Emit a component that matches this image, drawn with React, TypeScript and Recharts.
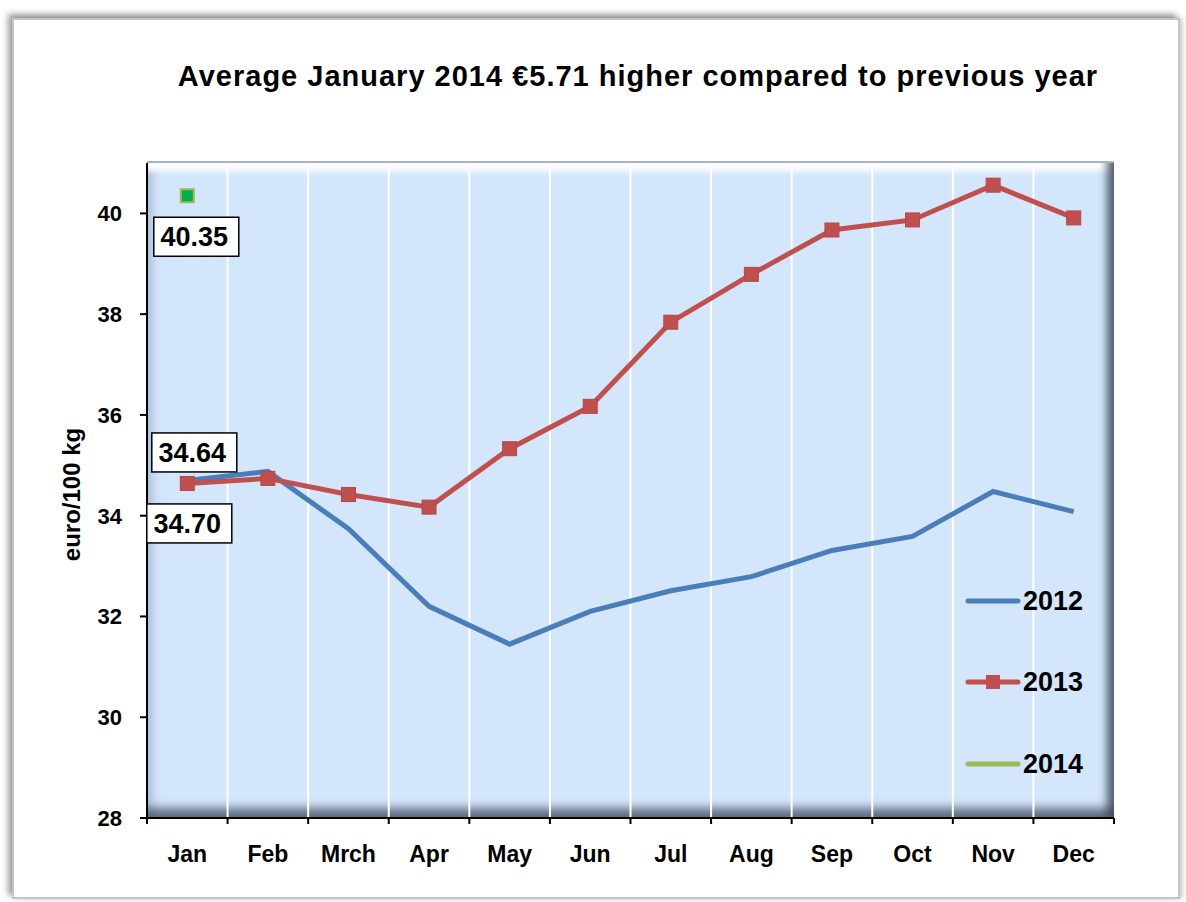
import React from 'react';
import { LineChart, Line, XAxis, YAxis, ReferenceLine, LabelList } from 'recharts';

const months = ['Jan', 'Feb', 'Mrch', 'Apr', 'May', 'Jun', 'Jul', 'Aug', 'Sep', 'Oct', 'Nov', 'Dec'];
const values2012 = [34.70, 34.88, 33.74, 32.20, 31.45, 32.10, 32.51, 32.79, 33.31, 33.59, 34.48, 34.08];
const values2013 = [34.64, 34.74, 34.42, 34.17, 35.33, 36.17, 37.84, 38.79, 39.67, 39.87, 40.56, 39.91];
const values2014: (number | null)[] = [40.35, null, null, null, null, null, null, null, null, null, null, null];
const yTicks = [28, 30, 32, 34, 36, 38, 40];
const seriesNames = ['2012', '2013', '2014'];
const titleText = 'Average January 2014 \u20ac5.71 higher compared to previous year';
const yAxisTitle = 'euro/100 kg';

const data = months.map((m, i) => ({
  month: m,
  y2012: values2012[i],
  y2013: values2013[i],
  y2014: values2014[i],
}));

const FONT = '"Liberation Sans", Arial, Helvetica, sans-serif';
const C2012 = '#4a7ebb';
const C2013 = '#c0504d';
const C2014 = '#9bbb59';
const C2014FILL = '#00b050';

const W = 1186;
const H = 902;
const MARGIN = { top: 163, right: 72, bottom: 34, left: 47 };
const Y_AXIS_W = 100;
const X_AXIS_H = 50;
const PLOT = {
  left: MARGIN.left + Y_AXIS_W,
  top: MARGIN.top,
  width: W - MARGIN.left - Y_AXIS_W - MARGIN.right,
  height: H - MARGIN.top - MARGIN.bottom - X_AXIS_H,
};

const X_TICK_SIZE = 6;
const X_TICK_MARGIN = 21;

const XTick = (props: any) => {
  const { x, y, payload, index } = props;
  const axisY = y - X_TICK_SIZE - X_TICK_MARGIN;
  const half = payload && payload.offset ? payload.offset : 0;
  return (
    <g>
      <line x1={x - half} x2={x - half} y1={axisY} y2={axisY + X_TICK_SIZE} stroke="#000" strokeWidth={2} />
      {index === months.length - 1 && (
        <line x1={x + half} x2={x + half} y1={axisY} y2={axisY + X_TICK_SIZE} stroke="#000" strokeWidth={2} />
      )}
      <text x={x} y={y} dy={16.5} textAnchor="middle" fontFamily={FONT} fontWeight="bold" fontSize={23} fill="#000">
        {payload.value}
      </text>
    </g>
  );
};

const boxLabel = (dx: number, dy: number, onlyFirst: boolean) => (props: any) => {
  const { x, y, value, index } = props;
  if (value === null || value === undefined || x == null || y == null) return null;
  if (onlyFirst && index !== 0) return null;
  const cx = x + dx;
  const cy = y + dy;
  const bw = 85;
  const bh = 39;
  return (
    <g>
      <rect x={cx - bw / 2} y={cy - bh / 2} width={bw} height={bh} fill="#fff" stroke="#000" strokeWidth={1.5} />
      <text x={cx - 2} y={cy} dy={9.5} textAnchor="middle" fontFamily={FONT} fontWeight="bold" fontSize={27} fill="#000">
        {Number(value).toFixed(2)}
      </text>
    </g>
  );
};

const squareDot = (size: number, fill: string, stroke: string, sw: number) => (props: any) => {
  const { cx, cy, index } = props;
  if (cx == null || cy == null || isNaN(cx) || isNaN(cy)) return <g key={`d-${index}`} />;
  return (
    <rect key={`d-${index}`} x={cx - size / 2} y={cy - size / 2} width={size} height={size} fill={fill} stroke={stroke} strokeWidth={sw} />
  );
};

const legendItems = [
  { name: seriesNames[0], color: C2012, marker: false },
  { name: seriesNames[1], color: C2013, marker: true },
  { name: seriesNames[2], color: C2014, marker: false },
];
const LEGEND_Y = [601, 682, 764];

const YLabel = (props: any) => {
  const vb = props.viewBox || { x: 0, y: 0, width: 0, height: 0 };
  const cx = vb.x + 25;
  const cy = vb.y + vb.height / 2 + 4;
  return (
    <text x={cx} y={cy} transform={`rotate(-90 ${cx} ${cy})`} textAnchor="middle" dy={8} fontFamily={FONT} fontWeight="bold" fontSize={24} fill="#000">
      {yAxisTitle}
    </text>
  );
};

export default function App() {
  return (
    <div style={{ position: 'absolute', left: 0, top: 0, width: W, height: H, background: '#fff', overflow: 'hidden', fontFamily: FONT }}>
      {/* outer frame */}
      <div
        style={{
          position: 'absolute',
          left: 12,
          top: 18,
          width: 1168,
          height: 881,
          boxSizing: 'border-box',
          border: '2px solid #c4c4c4',
          boxShadow: '-4px -4px 6px rgba(0,0,0,0.38), 3px 0px 5px rgba(0,0,0,0.18)',
          background: '#fff',
        }}
      />
      {/* plot background with bevel */}
      <div
        style={{
          position: 'absolute',
          left: PLOT.left,
          top: PLOT.top - 2,
          width: PLOT.width,
          height: PLOT.height + 2,
          boxSizing: 'border-box',
          background: '#d4e6fc',
          borderTop: '2px solid #a9b2bf',
          boxShadow:
            'inset -14px 0px 9px -7px rgba(60,70,90,0.85), inset 0px -18px 10px -8px rgba(60,70,90,0.75), inset 0px 14px 6px -6px rgba(255,255,255,1), inset 12px 0px 8px -6px rgba(140,160,195,0.55)',
        }}
      />
      {/* title */}
      <svg style={{ position: 'absolute', left: 0, top: 0 }} width={W} height={120}>
        <text x={638} y={86} textAnchor="middle" fontFamily={FONT} fontWeight="bold" fontSize={29} letterSpacing={1} fill="#000">
          {titleText}
        </text>
      </svg>
      <div style={{ position: 'absolute', left: 0, top: 0 }}>
        <LineChart width={W} height={H} data={data} margin={MARGIN}>
          {months.slice(1).map((m) => (
            <ReferenceLine key={m} x={m} position="start" stroke="#ffffff" strokeWidth={2} ifOverflow="extendDomain" />
          ))}
          <XAxis
            dataKey="month"
            scale="band"
            height={X_AXIS_H}
            axisLine={{ stroke: '#000', strokeWidth: 2 }}
            tickLine={{ stroke: 'none' }}
            tickSize={X_TICK_SIZE}
            tickMargin={X_TICK_MARGIN}
            interval={0}
            tick={<XTick />}
          />
          <YAxis
            domain={[28, 41]}
            ticks={yTicks}
            allowDataOverflow
            width={Y_AXIS_W}
            axisLine={{ stroke: '#000', strokeWidth: 2 }}
            tickLine={{ stroke: '#000', strokeWidth: 2 }}
            tickSize={7}
            tickMargin={18}
            tick={{ fontFamily: FONT, fontWeight: 'bold', fontSize: 22, fill: '#000' }}
            label={{ content: <YLabel /> } as any}
          />
          <Line
            type="linear"
            dataKey="y2012"
            name={seriesNames[0]}
            stroke={C2012}
            strokeWidth={5}
            dot={false}
            activeDot={false}
            isAnimationActive={false}
          >
            <LabelList dataKey="y2012" content={boxLabel(2, 43, true)} />
          </Line>
          <Line
            type="linear"
            dataKey="y2013"
            name={seriesNames[1]}
            stroke={C2013}
            strokeWidth={5}
            dot={squareDot(14, C2013, '#b5474a', 1)}
            activeDot={false}
            isAnimationActive={false}
          >
            <LabelList dataKey="y2013" content={boxLabel(7, -31, true)} />
          </Line>
          <Line
            type="linear"
            dataKey="y2014"
            name={seriesNames[2]}
            stroke={C2014}
            strokeWidth={5}
            dot={squareDot(13, C2014FILL, C2014, 2)}
            activeDot={false}
            connectNulls={false}
            isAnimationActive={false}
          >
            <LabelList dataKey="y2014" content={boxLabel(9, 41, true)} />
          </Line>
        </LineChart>
      </div>
      {/* legend */}
      {legendItems.map((it, i) => (
        <div key={it.name} style={{ position: 'absolute', left: 964, top: LEGEND_Y[i] - 20, height: 40, display: 'flex', alignItems: 'center' }}>
          <svg width={58} height={20}>
            <line x1={4} x2={54} y1={10} y2={10} stroke={it.color} strokeWidth={5} strokeLinecap="round" />
            {it.marker && <rect x={22} y={3} width={14} height={14} fill={it.color} />}
          </svg>
          <span style={{ fontFamily: FONT, fontWeight: 'bold', fontSize: 27, color: '#000', marginLeft: 1, lineHeight: '40px' }}>
            {it.name}
          </span>
        </div>
      ))}
    </div>
  );
}
